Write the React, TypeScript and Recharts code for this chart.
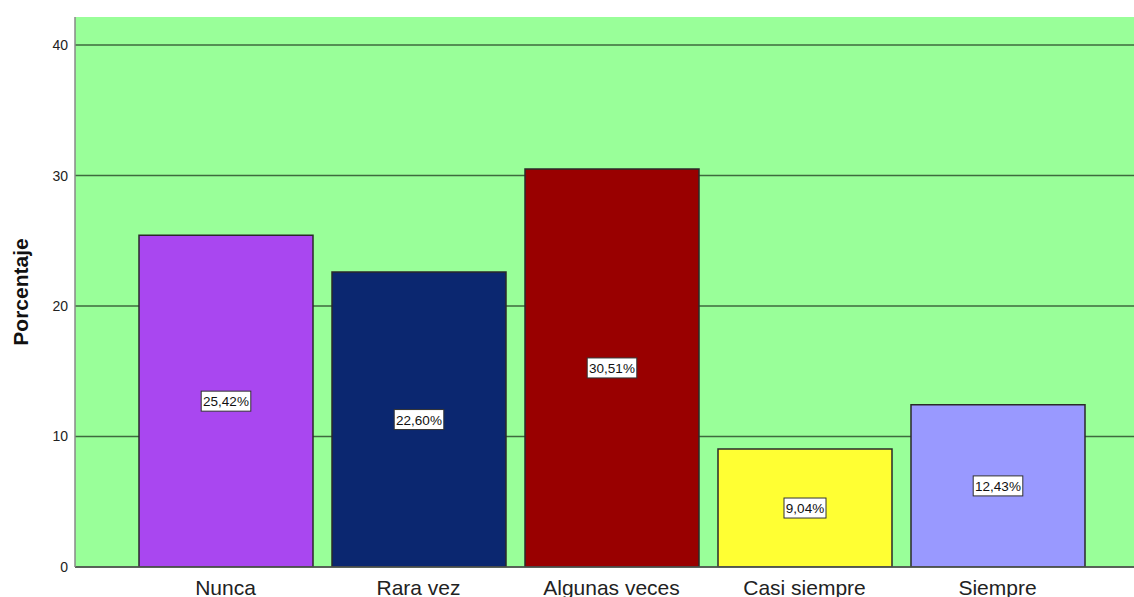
import React from 'react';
import { BarChart, Bar, XAxis, YAxis, CartesianGrid, Cell, LabelList } from 'recharts';

const categories = ['Nunca', 'Rara vez', 'Algunas veces', 'Casi siempre', 'Siempre'];
const percentages = [25.42, 22.6, 30.51, 9.04, 12.43];
const barColors = ['#A947F0', '#0B2770', '#990000', '#FFFF33', '#9999FF'];
const yTicks = [0, 10, 20, 30, 40];

const data = categories.map((name, i) => ({ name, value: percentages[i] }));

const fmt = (v: number) => v.toFixed(2).replace('.', ',') + '%';

const ValueBox = (props: any) => {
  const { x, y, width, height, value } = props;
  const text = fmt(value);
  const w = text.length * 7.6 + 4;
  const h = 20;
  const cx = x + width / 2;
  const cy = y + height / 2;
  return (
    <g>
      <rect x={cx - w / 2} y={cy - h / 2} width={w} height={h} fill="#ffffff" stroke="#333333" strokeWidth={1} />
      <text x={cx} y={cy + 5} textAnchor="middle" fontSize={13.5} fill="#111111" fontFamily="'Liberation Sans', Arial, sans-serif">
        {text}
      </text>
    </g>
  );
};

// rotated y-axis title, centred on the plot height
const AxisTitle = (props: any) => {
  const { viewBox } = props;
  const cy = viewBox.y + viewBox.height / 2;
  return (
    <text x={28} y={cy} transform={`rotate(-90, 28, ${cy})`} textAnchor="middle" fontSize={21} fontWeight="bold" fill="#111111" fontFamily="'Liberation Sans', Arial, sans-serif">
      Porcentaje
    </text>
  );
};

export default function App() {
  return (
    <div style={{ width: 1134, height: 597, background: '#ffffff' }}>
      <style>{`body{margin:0}`}</style>
      <BarChart width={1134} height={597} data={data} margin={{ top: 17, right: 0, bottom: 0, left: 0 }}>
        <CartesianGrid
          vertical={false}
          horizontalValues={yTicks}
          fill="#99FF99"
          stroke="#3E6A3E"
          strokeWidth={1.6}
          fillOpacity={1}
        />
        <XAxis
          dataKey="name"
          height={30}
          padding={{ left: 54, right: 40 }}
          tickLine={false}
          tickSize={0}
          tickMargin={13}
          axisLine={{ stroke: '#555555', strokeWidth: 1.5 }}
          tick={{ fontSize: 21, fill: '#222222', fontFamily: "'Liberation Sans', Arial, sans-serif" }}
          interval={0}
        />
        <YAxis
          width={75}
          domain={[0, 42.15]}
          ticks={yTicks}
          allowDataOverflow
          tickLine={false}
          tickSize={0}
          tickMargin={7}
          axisLine={{ stroke: '#888888', strokeWidth: 1.5 }}
          tick={{ fontSize: 14, fill: '#222222', fontFamily: "'Liberation Sans', Arial, sans-serif" }}
          label={<AxisTitle />}
        />
        <Bar dataKey="value" barSize={174} stroke="#2a2a2a" strokeWidth={1.5} isAnimationActive={false}>
          {data.map((d, i) => (
            <Cell key={d.name} fill={barColors[i]} />
          ))}
          <LabelList dataKey="value" content={<ValueBox />} />
        </Bar>
      </BarChart>
    </div>
  );
}
